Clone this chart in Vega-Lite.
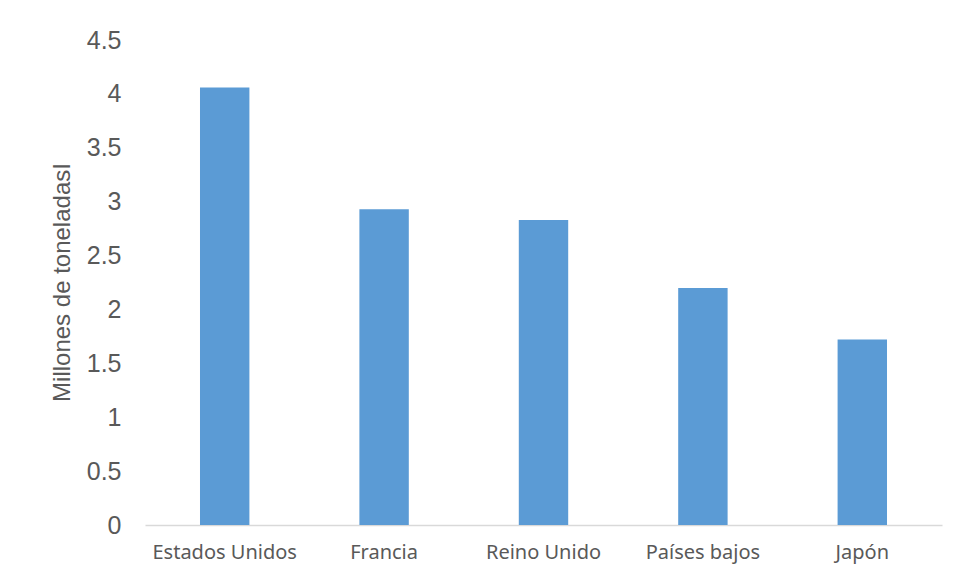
{
  "$schema": "https://vega.github.io/schema/vega-lite/v6.json",
  "width": 797,
  "height": 485,
  "autosize": {"type": "none"},
  "padding": {"left": 145, "top": 40, "right": 19, "bottom": 57},
  "background": "white",
  "data": {
    "values": [
      {"pais": "Estados Unidos", "valor": 4.06},
      {"pais": "Francia", "valor": 2.93},
      {"pais": "Reino Unido", "valor": 2.83},
      {"pais": "Países bajos", "valor": 2.2},
      {"pais": "Japón", "valor": 1.72}
    ]
  },
  "mark": {"type": "bar", "color": "#5B9BD5"},
  "encoding": {
    "x": {
      "field": "pais",
      "type": "nominal",
      "sort": null,
      "scale": {"paddingInner": 0.69, "paddingOuter": 0.345},
      "axis": {
        "title": null,
        "labelAngle": 0,
        "labelFont": "Noto Sans",
        "labelFontSize": 20,
        "labelColor": "#595959",
        "labelPadding": 17,
        "ticks": false,
        "domainColor": "#D9D9D9",
        "domainWidth": 1.5
      }
    },
    "y": {
      "field": "valor",
      "type": "quantitative",
      "scale": {"domain": [0, 4.5], "nice": false},
      "axis": {
        "values": [0, 0.5, 1, 1.5, 2, 2.5, 3, 3.5, 4, 4.5],
        "format": "~g",
        "title": "Millones de toneladasI",
        "titleFont": "Liberation Sans",
        "titleFontSize": 24,
        "titleFontWeight": "normal",
        "titleColor": "#595959",
        "titleX": -83,
        "titleY": 242,
        "titleAlign": "center",
        "titleBaseline": "middle",
        "labelFont": "Liberation Sans",
        "labelFontSize": 25,
        "labelColor": "#595959",
        "labelPadding": 24,
        "ticks": false,
        "domain": false,
        "grid": false
      }
    }
  },
  "config": {"view": {"stroke": null}}
}
